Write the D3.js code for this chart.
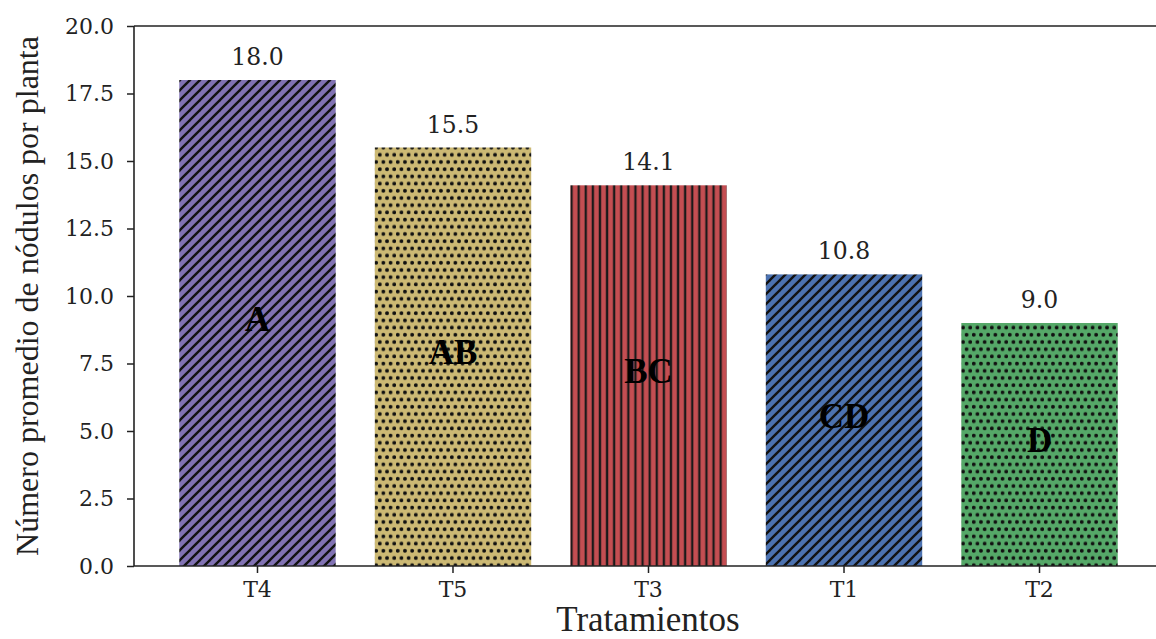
<!DOCTYPE html>
<html>
<head>
<meta charset="utf-8">
<script src="https://cdn.jsdelivr.net/npm/d3@7"></script>
<style>
  html, body { margin: 0; padding: 0; background: #fff; }
  svg { display: block; }
</style>
</head>
<body>
<svg id="chart" width="1156" height="639"></svg>
<script>
// Treatments, mean nodule counts, and significance groups
const categories = ["T4", "T5", "T3", "T1", "T2"];
const values = [18.0, 15.5, 14.1, 10.8, 9.0];
const groups = ["A", "AB", "BC", "CD", "D"];
const colors = ["#8172b3", "#ccb974", "#c44e52", "#4c72b0", "#55a868"];
const hatches = ["diag", "dots", "vert", "diag", "dots"];
const yTicks = [0, 2.5, 5, 7.5, 10, 12.5, 15, 17.5, 20];

const svg = d3.select("#chart");
const W = 1156, H = 639;
const mLeft = 134, mRight = 1163, mTop = 26, mBottom = 566;

const x = d3.scaleBand().domain(categories).range([mLeft, mRight])
  .paddingInner(0.2).paddingOuter(0.2316);
const y = d3.scaleLinear().domain([0, 20]).range([mBottom, mTop]);

// Hatch patterns, one per bar colour
const defs = svg.append("defs");
categories.forEach((c, i) => {
  const id = "hatch" + i;
  const kind = hatches[i];
  if (kind === "diag") {
    const s = 10;
    const p = defs.append("pattern").attr("id", id)
      .attr("patternUnits", "userSpaceOnUse").attr("width", s).attr("height", s);
    p.append("rect").attr("width", s).attr("height", s).attr("fill", colors[i]);
    const g = p.append("g").attr("stroke", "#111").attr("stroke-width", 2.4);
    g.append("line").attr("x1", -1).attr("y1", s + 1).attr("x2", s + 1).attr("y2", -1);
    g.append("line").attr("x1", -1 - s).attr("y1", s + 1).attr("x2", 1).attr("y2", -1);
    g.append("line").attr("x1", s - 1).attr("y1", s + 1).attr("x2", 2 * s + 1).attr("y2", -1);
  } else if (kind === "vert") {
    const s = 7.1;
    const p = defs.append("pattern").attr("id", id)
      .attr("patternUnits", "userSpaceOnUse").attr("width", s).attr("height", 10);
    p.append("rect").attr("width", s).attr("height", 10).attr("fill", colors[i]);
    p.append("line").attr("x1", s / 2).attr("x2", s / 2).attr("y1", 0).attr("y2", 10)
      .attr("stroke", "#1a1a1a").attr("stroke-width", 2.3);
  } else {
    const s = 7.2;
    const p = defs.append("pattern").attr("id", id)
      .attr("patternUnits", "userSpaceOnUse").attr("width", s).attr("height", s * 2);
    p.append("rect").attr("width", s).attr("height", s * 2).attr("fill", colors[i]);
    p.append("circle").attr("cx", s / 4).attr("cy", s / 2).attr("r", 1.9).attr("fill", "#111");
    p.append("circle").attr("cx", s * 3 / 4).attr("cy", s * 1.5).attr("r", 1.9).attr("fill", "#111");
  }
});

// Bars
svg.append("g").selectAll("rect").data(categories).join("rect")
  .attr("x", d => x(d))
  .attr("y", (d, i) => y(values[i]))
  .attr("width", x.bandwidth())
  .attr("height", (d, i) => y(0) - y(values[i]))
  .attr("fill", (d, i) => "url(#hatch" + i + ")");

// Value labels above bars
svg.append("g").selectAll("text").data(categories).join("text")
  .attr("x", d => x(d) + x.bandwidth() / 2)
  .attr("y", (d, i) => y(values[i]) - 15)
  .attr("text-anchor", "middle")
  .attr("font-family", "DejaVu Serif")
  .attr("font-size", 23.5)
  .attr("fill", "#222")
  .text((d, i) => values[i].toFixed(1));

// Group letters at mid-height of each bar
svg.append("g").selectAll("text").data(categories).join("text")
  .attr("x", d => x(d) + x.bandwidth() / 2)
  .attr("y", (d, i) => y(values[i] / 2) - 4)
  .attr("text-anchor", "middle")
  .attr("dominant-baseline", "central")
  .attr("font-family", "Liberation Serif")
  .attr("font-weight", "bold")
  .attr("font-size", 35)
  .attr("fill", "#000")
  .text((d, i) => groups[i]);

// Axes
const xAxis = d3.axisBottom(x).tickSize(7).tickPadding(8);
const yAxis = d3.axisLeft(y).tickValues(yTicks).tickFormat(d3.format(".1f")).tickSize(7).tickPadding(13);

const gx = svg.append("g").attr("transform", `translate(0,${mBottom})`).call(xAxis);
gx.select(".domain").remove();
gx.selectAll("line").attr("stroke", "#222").attr("stroke-width", 1.5);
gx.selectAll("text").attr("font-family", "DejaVu Serif").attr("font-size", 22).attr("fill", "#222");

const gy = svg.append("g").attr("transform", `translate(${mLeft},0)`).call(yAxis);
gy.select(".domain").remove();
gy.selectAll("line").attr("stroke", "#222").attr("stroke-width", 1.5);
gy.selectAll("text").attr("font-family", "DejaVu Serif").attr("font-size", 22).attr("fill", "#222");

// Spines
svg.append("line").attr("x1", mLeft).attr("x2", mLeft).attr("y1", mTop).attr("y2", mBottom)
  .attr("stroke", "#222").attr("stroke-width", 1.6);
svg.append("line").attr("x1", mLeft).attr("x2", W).attr("y1", mTop).attr("y2", mTop)
  .attr("stroke", "#222").attr("stroke-width", 1.6);
svg.append("line").attr("x1", mLeft).attr("x2", W).attr("y1", mBottom).attr("y2", mBottom)
  .attr("stroke", "#222").attr("stroke-width", 1.6);

// Axis titles
svg.append("text")
  .attr("x", 648).attr("y", 631)
  .attr("text-anchor", "middle")
  .attr("font-family", "Liberation Serif")
  .attr("font-size", 35)
  .attr("fill", "#222")
  .text("Tratamientos");

svg.append("text")
  .attr("transform", `translate(38,${(mTop + mBottom) / 2}) rotate(-90)`)
  .attr("text-anchor", "middle")
  .attr("font-family", "Liberation Serif")
  .attr("font-size", 32)
  .attr("fill", "#222")
  .text("Número promedio de nódulos por planta");
</script>
</body>
</html>
